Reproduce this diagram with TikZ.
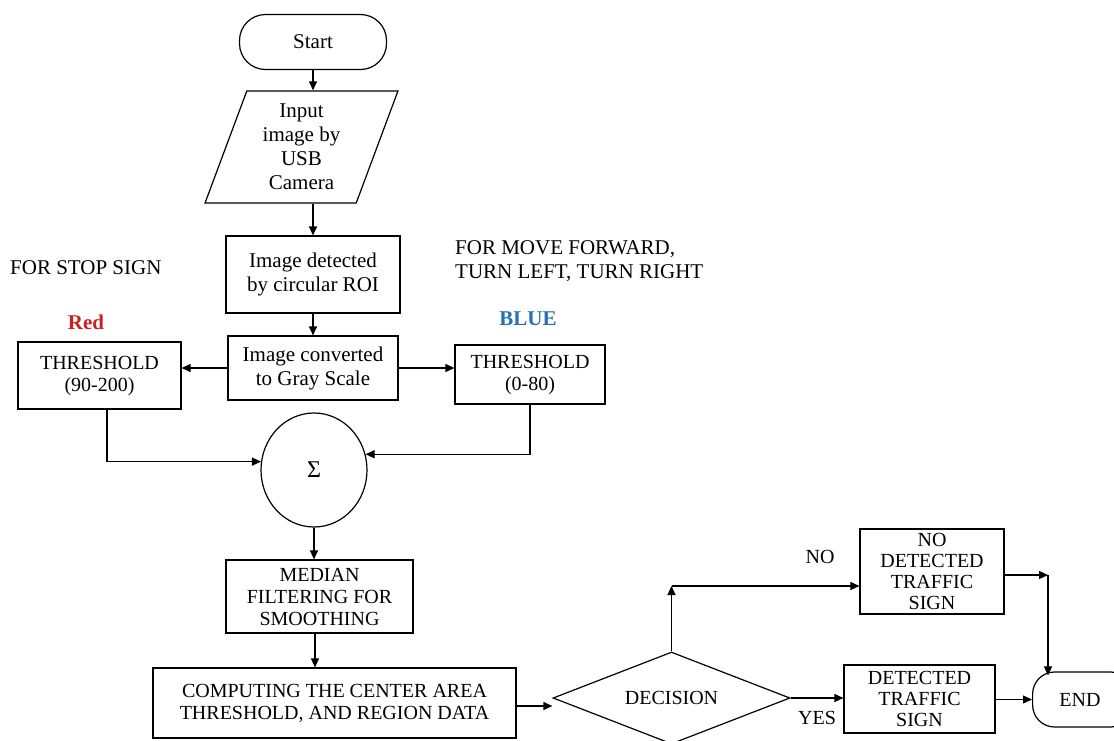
\documentclass[tikz,border=0pt]{standalone}
\usepackage{fontspec}
\setmainfont{Liberation Serif}
\usetikzlibrary{shapes.geometric,arrows.meta}
\definecolor{redlbl}{RGB}{205,32,32}
\definecolor{bluelbl}{RGB}{40,110,180}
\tikzset{
  every node/.style={font=\fontsize{20}{22}\selectfont},
  mixed/.style={font=\fontsize{21}{24}\selectfont},
  box/.style={draw, line width=1.2pt, rectangle, inner sep=0pt, align=center},
  term/.style={draw, line width=1.2pt, rectangle, rounded corners=26pt, inner sep=0pt, align=center},
  io/.style={draw, line width=1.2pt, trapezium, trapezium left angle=71, trapezium right angle=109, trapezium stretches=true, inner sep=0pt, align=center},
  sumnode/.style={draw, line width=1.2pt, ellipse, inner sep=0pt},
  decnode/.style={draw, line width=1.2pt, diamond, inner sep=0pt, aspect=2.58},
  arr/.style={-{Triangle[length=9pt,width=8pt]}, line width=1.2pt},
  lbl/.style={inner sep=0pt}
}
\begin{document}
\begin{tikzpicture}[x=1pt,y=-1pt]
\useasboundingbox (0,0) rectangle (1114,740);
\clip (0,0) rectangle (1114,740);
% nodes
\node[term, mixed, minimum width=147pt, minimum height=55pt] (start) at (313,42) {Start};
\node[io, mixed, minimum width=193pt, minimum height=112pt] (input) at (301.5,147) {Input\\image by\\USB\\Camera};
\node[box, mixed, minimum width=174pt, minimum height=77pt] (det) at (313,274.5) {Image detected\\by circular ROI};
\node[box, mixed, minimum width=170pt, minimum height=64pt] (gray) at (313,368) {Image converted\\to Gray Scale};
\node[box, minimum width=163pt, minimum height=67pt] (redthr) at (99.5,375.5) {THRESHOLD\\(90-200)};
\node[box, minimum width=150pt, minimum height=59pt] (bluethr) at (530,374.5) {THRESHOLD\\(0-80)};
\node[sumnode, minimum width=106pt, minimum height=114pt, font=\fontsize{24}{26}\selectfont] (sum) at (314,470) {Σ};
\node[box, minimum width=187pt, minimum height=73pt] (median) at (319.5,596.5) {MEDIAN\\FILTERING FOR\\SMOOTHING};
\node[box, minimum width=363pt, minimum height=70pt] (comp) at (334.5,703) {COMPUTING THE CENTER AREA\\THRESHOLD, AND REGION DATA};
\node[decnode, minimum width=237pt, minimum height=92pt] (dec) at (671.5,698) {DECISION};
\node[box, minimum width=144pt, minimum height=85pt, font=\fontsize{20}{21}\selectfont] (nobox) at (932,571.5) {NO\\DETECTED\\TRAFFIC\\SIGN};
\node[box, minimum width=151pt, minimum height=68pt, font=\fontsize{20}{21}\selectfont] (detbox) at (919.5,699) {DETECTED\\TRAFFIC\\SIGN};
\node[term, rounded corners=22pt, minimum width=100pt, minimum height=55pt, anchor=west] (end) at (1032,699.5) {};
\node[lbl] (endtxt) at (1080,699.5) {END};
% labels
\node[lbl, mixed, anchor=west] (stoplbl) at (10,268) {FOR STOP SIGN};
\node[lbl, font=\fontsize{21}{24}\selectfont\bfseries, text=redlbl] (redlbl) at (86,322) {Red};
\node[lbl, mixed, anchor=north west, align=left] (movelbl) at (455,240) {FOR MOVE FORWARD,\\TURN LEFT, TURN RIGHT};
\node[lbl, font=\fontsize{21}{24}\selectfont\bfseries, text=bluelbl] (bluelbl) at (528,319) {BLUE};
\node[lbl] (nolbl) at (820,557) {NO};
\node[lbl] (yeslbl) at (817,718) {YES};
% connectors
\draw[arr] (start.south) -- (start.south |- input.north);
\draw[arr] (det.north |- input.south) -- (det.north);
\draw[arr] (det.south) -- (gray.north);
\draw[arr] (gray.west) -- (gray.west -| redthr.east);
\draw[arr] (gray.east) -- (gray.east -| bluethr.west);
\draw[arr] ([xshift=7.5pt]redthr.south) |- (sum.171);
\draw[arr] (bluethr.south) |- (sum.17);
\draw[arr] (sum.south) -- (sum.south |- median.north);
\draw[arr] ([xshift=-4.5pt]median.south) -- ([xshift=-4.5pt]median.south |- comp.north);
\draw[arr] ([yshift=-3pt]comp.east) -- ([yshift=-3pt]comp.east -| dec.west);
\coordinate (up) at (671.5,586);
\draw[arr] (dec.north) -- (up);
\draw[arr] (up) -- (up -| nobox.west);
\coordinate (corner) at (1048,575);
\draw[arr] (nobox.east |- corner) -- (corner);
\draw[arr] (corner) -- ([yshift=-4pt]corner |- end.north);
\draw[arr] (dec.east) -- (dec.east -| detbox.west);
\draw[arr] (detbox.east |- end.west) -- (end.west);
\end{tikzpicture}
\end{document}
